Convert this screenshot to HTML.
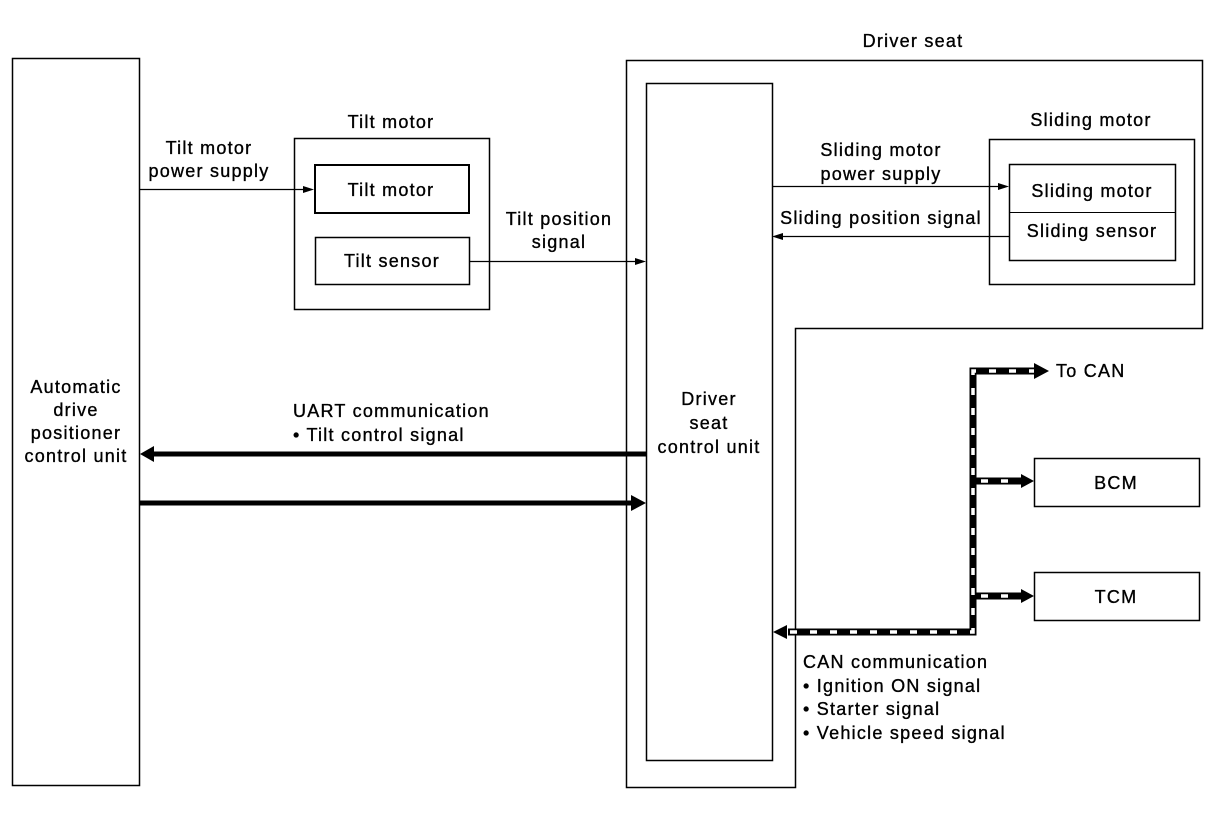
<!DOCTYPE html>
<html><head><meta charset="utf-8"><style>
html,body{margin:0;padding:0;background:#fff;}
svg{display:block;}
text{font-family:"Liberation Sans",Arial,sans-serif;font-size:18px;letter-spacing:1.25px;fill:#000;stroke:#000;stroke-width:0.35;}
</style></head><body>
<svg width="1216" height="822" viewBox="0 0 1216 822" xmlns="http://www.w3.org/2000/svg">
<g fill="none" stroke="#000">
<rect x="12.5" y="58.5" width="127" height="727" stroke-width="1.5"/>
<rect x="294.5" y="138.5" width="195" height="171" stroke-width="1.5"/>
<rect x="315" y="165" width="154" height="48" stroke-width="2"/>
<rect x="315.5" y="237.5" width="154" height="47" stroke-width="1.5"/>
<polygon points="626.5,60.5 1202.5,60.5 1202.5,328.5 795.5,328.5 795.5,787.5 626.5,787.5" stroke-width="1.5"/>
<rect x="646.5" y="83.5" width="126" height="677" stroke-width="1.5"/>
<rect x="989.5" y="139.5" width="205" height="145" stroke-width="1.5"/>
<rect x="1009.5" y="164.5" width="166" height="96" stroke-width="1.5"/>
<line x1="1009" y1="212.5" x2="1176" y2="212.5" stroke-width="1"/>
<rect x="1034.5" y="458.5" width="165" height="48" stroke-width="1.5"/>
<rect x="1034.5" y="572.5" width="165" height="48" stroke-width="1.5"/>
<line x1="139" y1="189.5" x2="306" y2="189.5" stroke-width="1.2"/>
<line x1="469" y1="261.5" x2="637" y2="261.5" stroke-width="1.2"/>
<line x1="772" y1="186.5" x2="1000" y2="186.5" stroke-width="1.2"/>
<line x1="781" y1="236.5" x2="1009" y2="236.5" stroke-width="1.2"/>
<line x1="152" y1="454" x2="646" y2="454" stroke-width="5"/>
<line x1="140" y1="503" x2="632" y2="503" stroke-width="5"/>
<g stroke-width="7">
<polyline points="1040,371 973,371 973,632 788,632"/>
<line x1="973" y1="481" x2="1022" y2="481"/>
<line x1="973" y1="596" x2="1022" y2="596"/>
</g>
<g stroke="#fff" stroke-width="3.5" stroke-dasharray="7,13">
<polyline points="1036,371 973,371 973,632 790,632"/>
<line x1="981" y1="481" x2="1018" y2="481"/>
<line x1="981" y1="596" x2="1018" y2="596"/>
</g>
</g>
<g fill="#000">
<polygon points="314,189.5 303,186 303,193"/>
<polygon points="646,261.5 635,258 635,265"/>
<polygon points="1009,186.5 998,183 998,190"/>
<polygon points="772,236.5 783,233 783,240"/>
<polygon points="140,454 154,446 154,462"/>
<polygon points="646,503 631,495 631,511"/>
<polygon points="1049,371 1034,363 1034,379"/>
<polygon points="1034,481 1021,474 1021,488"/>
<polygon points="1034,596 1021,589 1021,603"/>
<polygon points="773,632 787,625 787,639"/>
</g>
<g text-anchor="middle">
<text x="913" y="47">Driver seat</text>
<text x="391" y="128">Tilt motor</text>
<text x="1091" y="126">Sliding motor</text>
<text x="209" y="154">Tilt motor</text>
<text x="209" y="177">power supply</text>
<text x="391" y="196">Tilt motor</text>
<text x="392" y="267">Tilt sensor</text>
<text x="559" y="225">Tilt position</text>
<text x="559" y="248">signal</text>
<text x="881" y="156">Sliding motor</text>
<text x="881" y="180">power supply</text>
<text x="881" y="224">Sliding position signal</text>
<text x="1092" y="197">Sliding motor</text>
<text x="1092" y="237">Sliding sensor</text>
<text x="76" y="393">Automatic</text>
<text x="76" y="416">drive</text>
<text x="76" y="439">positioner</text>
<text x="76" y="462">control unit</text>
<text x="709" y="405">Driver</text>
<text x="709" y="429">seat</text>
<text x="709" y="453">control unit</text>
<text x="1116" y="489">BCM</text>
<text x="1116" y="603">TCM</text>
</g>
<text x="1056" y="377">To CAN</text>
<text x="293" y="417">UART communication</text>
<text x="293" y="441">• Tilt control signal</text>
<text x="803" y="668">CAN communication</text>
<text x="803" y="692">• Ignition ON signal</text>
<text x="803" y="715">• Starter signal</text>
<text x="803" y="739">• Vehicle speed signal</text>
</svg>
</body></html>
